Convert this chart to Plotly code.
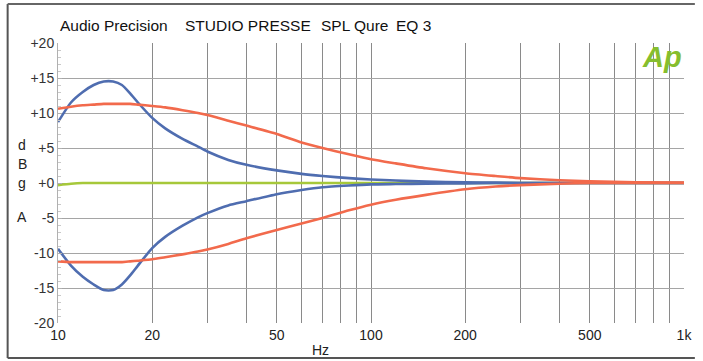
import plotly.graph_objects as go

# ---- data ----
freq = [10, 11, 12, 13, 14, 15, 16, 17, 18, 20, 22, 25, 28, 30, 35, 40, 50, 60, 70, 85,
        100, 120, 150, 200, 250, 300, 400, 500, 700, 1000]
blue_boost = [8.7, 11.5, 13.0, 14.0, 14.5, 14.5, 14.0, 12.8, 11.5, 9.3, 7.8, 6.3, 5.2, 4.5, 3.3,
              2.6, 1.8, 1.3, 1.0, 0.7, 0.5, 0.35, 0.2, 0.1, 0.05, 0.0, 0.0, 0.0, 0.0, 0.0]
blue_cut = [-9.4, -11.8, -13.4, -14.5, -15.3, -15.3, -14.5, -13.2, -11.8, -9.3, -7.7, -6.1, -4.9,
            -4.3, -3.2, -2.6, -1.6, -1.0, -0.6, -0.35, -0.2, -0.15, -0.1, -0.05, 0.0, 0.0, 0.0,
            0.0, 0.0, 0.0]
red_boost = [10.6, 10.9, 11.1, 11.2, 11.3, 11.3, 11.3, 11.3, 11.2, 11.0, 10.8, 10.4, 10.0, 9.7,
             8.9, 8.2, 7.0, 5.8, 5.0, 4.1, 3.4, 2.8, 2.1, 1.4, 1.0, 0.7, 0.4, 0.25, 0.1, 0.05]
red_cut = [-11.2, -11.3, -11.3, -11.3, -11.3, -11.3, -11.3, -11.2, -11.1, -10.9, -10.6, -10.2,
           -9.8, -9.5, -8.7, -7.9, -6.7, -5.8, -5.0, -3.9, -3.1, -2.4, -1.7, -0.9, -0.5, -0.3,
           -0.1, 0.0, 0.0, 0.0]
green_flat = [-0.3, -0.1, 0.0, 0.0, 0.0, 0.0, 0.0, 0.0, 0.0, 0.0, 0.0, 0.0, 0.0, 0.0, 0.0, 0.0,
              0.0, 0.0, 0.0, 0.0, 0.0, 0.0, 0.0, 0.0, 0.0, 0.0, 0.0, 0.0, 0.0, 0.0]

x_grid = [10, 20, 30, 40, 50, 60, 70, 80, 90, 100, 200, 300, 400, 500, 600, 700, 800, 900, 1000]
x_labels = {10: "10", 20: "20", 50: "50", 100: "100", 200: "200", 500: "500", 1000: "1k"}
y_vals = [20, 15, 10, 5, 0, -5, -10, -15, -20]
y_labels = ["+20", "+15", "+10", "+5", "+0", "-5", "-10", "-15", "-20"]
title_parts = ["Audio Precision", "STUDIO PRESSE", "SPL Qure", "EQ 3"]
title_x = [58, 185, 322, 398]

BLUE = "#4f6db0"
RED = "#f26a4c"
GREEN = "#a6c83a"
FONT = "Liberation Sans"

fig = go.Figure()
series = [(green_flat, GREEN), (blue_boost, BLUE), (blue_cut, BLUE), (red_boost, RED), (red_cut, RED)]
for vals, col in series:
    fig.add_trace(go.Scatter(x=freq, y=vals, mode="lines",
                             line=dict(color=col, width=2.6, shape="spline", smoothing=0.6),
                             hoverinfo="skip", showlegend=False))

W, H = 703, 361
L, R, T, B = 58, 11, 43, 38
pw, ph = W - L - R, H - T - B

def px(x):
    return (x - L) / pw

def py(y):
    return (H - B - y) / ph

fig.update_layout(
    width=W, height=H,
    margin=dict(l=L, r=R, t=T, b=B),
    paper_bgcolor="white", plot_bgcolor="white",
    font=dict(family=FONT, size=14, color="#222"),
    xaxis=dict(type="log", range=[1, 3], tickmode="array", tickvals=x_grid,
               ticktext=[x_labels.get(v, "") for v in x_grid],
               showgrid=True, gridcolor="#8a8a8a", gridwidth=1, zeroline=False,
               showline=False, ticks="", ticklabelstandoff=2,
               tickfont=dict(family=FONT, size=14, color="#222")),
    yaxis=dict(range=[-20, 20], tickmode="array", tickvals=y_vals, ticktext=y_labels,
               showgrid=True, gridcolor="#a5a5a5", gridwidth=1, zeroline=False,
               showline=True, linecolor="#b0b0b0", linewidth=1,
               ticks="inside", ticklen=4, tickcolor="#b0b0b0",
               minor=dict(dtick=1, ticks="inside", ticklen=3, tickcolor="#c8c8c8", showgrid=False),
               tickfont=dict(family=FONT, size=14, color="#333")),
)

# frame
fig.add_shape(type="line", xref="paper", yref="paper", x0=px(7), x1=px(7), y0=py(4), y1=py(358),
              line=dict(color="#555", width=2))
fig.add_shape(type="line", xref="paper", yref="paper", x0=px(7), x1=px(703), y0=py(4), y1=py(4),
              line=dict(color="#666", width=2))
fig.add_shape(type="line", xref="paper", yref="paper", x0=px(7), x1=px(703), y0=py(358), y1=py(358),
              line=dict(color="#555", width=2))

# title pieces
for txt, xx in zip(title_parts, title_x):
    fig.add_annotation(text=txt, xref="paper", yref="paper", x=px(xx), y=py(25),
                       xanchor="left", yanchor="middle", showarrow=False,
                       font=dict(family=FONT, size=15.5, color="#111"))

# vertical y-axis label letters
for ch, yy in zip(["d", "B", "g", "A"], [145, 164, 183, 217]):
    fig.add_annotation(text=ch, xref="paper", yref="paper", x=px(22), y=py(yy),
                       xanchor="center", yanchor="middle", showarrow=False,
                       font=dict(family=FONT, size=14, color="#222"))

# x-axis unit
fig.add_annotation(text="Hz", xref="paper", yref="paper", x=px(324), y=py(350),
                   xanchor="center", yanchor="middle", showarrow=False,
                   font=dict(family=FONT, size=14, color="#222"))

# Ap logo
fig.add_annotation(text="<b><i>Ap</i></b>", xref="paper", yref="paper", x=px(670), y=py(57),
                   xanchor="center", yanchor="middle", showarrow=False,
                   font=dict(family=FONT, size=29, color="#86be2e"))

fig.write_html("out.html")
